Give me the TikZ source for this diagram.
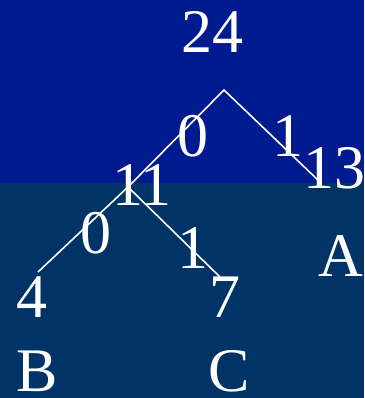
\documentclass[tikz,border=0pt]{standalone}
\usepackage{fontspec}
\setmainfont{Liberation Serif}
\definecolor{topblue}{RGB}{0,26,144}
\definecolor{lowblue}{RGB}{0,51,102}

\begin{document}
\begin{tikzpicture}[
    x=1pt, y=-1pt,
    lbl/.style={text=white, inner sep=0pt, anchor=base, font=\fontsize{62}{62}\selectfont},
    edge/.style={draw=white, line width=1.6pt},
]

% Background bands
\fill[topblue] (0,0) rectangle (364,183);
\fill[lowblue] (0,183) rectangle (364,398);
\useasboundingbox (0,0) rectangle (364,398);

% Tree junctions
\coordinate (root) at (224,90);
\coordinate (mid) at (128,187);
\coordinate (endA) at (320,182);
\coordinate (endB) at (38,272);
\coordinate (endC) at (220,277);

% Edges
\draw[edge] (mid) -- (root) -- (endA);
\draw[edge] (endB) -- (mid) -- (endC);

% Weights
\node[lbl] (n24) at (212,53) {24};
\node[lbl] (n13) at (334,188) {13};
\node[lbl] (n11) at (142,205) {11};
\node[lbl] (n4) at (32,317) {4};
\node[lbl] (n7) at (225,317) {7};

% Bit labels
\node[lbl] (btop0) at (193,156) {0};
\node[lbl] (btop1) at (288,157) {1};
\node[lbl] (blow0) at (96,253) {0};
\node[lbl] (blow1) at (193,268) {1};

% Symbols
\node[lbl] (symA) at (341,276) {A};
\node[lbl] (symB) at (37,391) {B};
\node[lbl] (symC) at (229,391) {C};

\end{tikzpicture}
\end{document}
